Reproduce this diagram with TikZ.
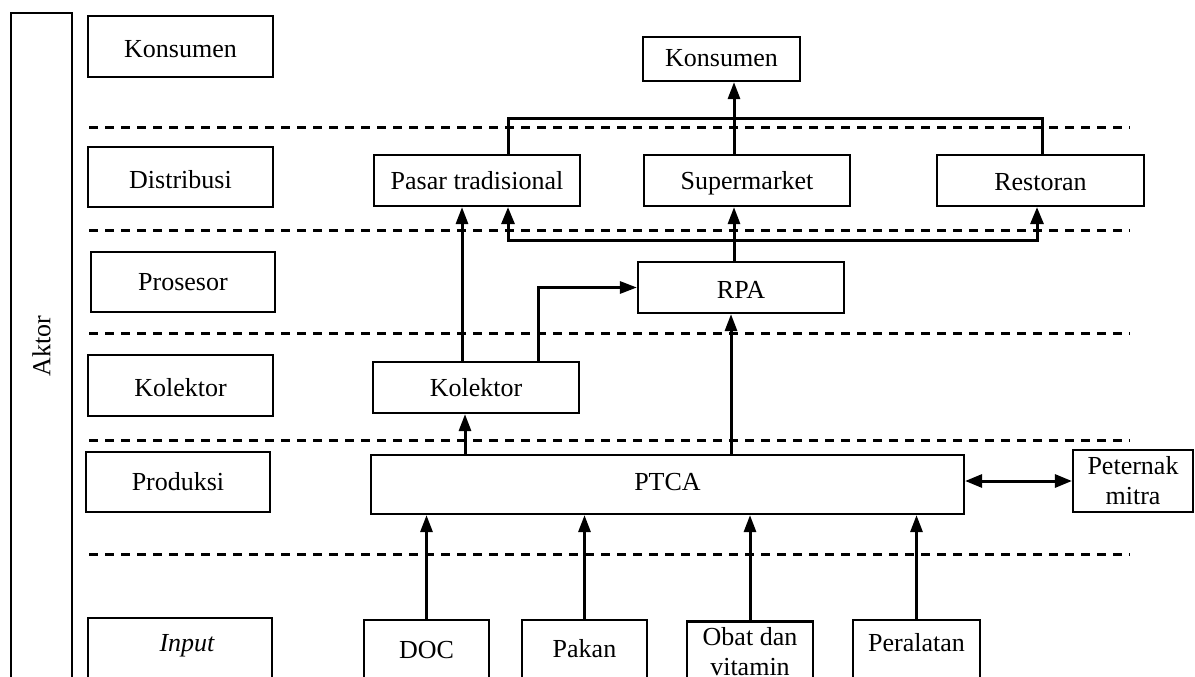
\documentclass[tikz,border=0pt]{standalone}
\usepackage{fontspec}
\setmainfont{Liberation Serif}
\usetikzlibrary{arrows.meta}
\begin{document}
\begin{tikzpicture}[x=1pt,y=-1pt,
  mbox/.style={draw, line width=2.2pt, inner sep=0pt, align=center, font=\fontsize{26}{30}\selectfont},
  bl/.style 2 args={text height=#1pt, text depth=#2pt},
  box/.style={mbox},
  conn/.style={line width=3pt},
  arr/.style={conn, -{Triangle[length=17pt,width=12pt]}},
  darr/.style={conn, {Triangle[length=17pt,width=13pt]}-{Triangle[length=17pt,width=13pt]}},
  sep/.style={line width=3pt, dash pattern=on 9pt off 7pt}]
\useasboundingbox (0,0) rectangle (1195,677);
\clip (0,0) rectangle (1195,677);
% Aktor column
\node[mbox, rotate=90, minimum width=690, minimum height=61] (aktor) at (41.5,358) {};
\node[font=\fontsize{26}{30}\selectfont, rotate=90] (aktortxt) at (41.5,346) {Aktor};
% left labels
\node[box, bl={23.5}{0.5}, minimum width=185, minimum height=61] (lkons) at (180.5,46.5) {Konsumen};
\node[box, bl={23}{1}, minimum width=185, minimum height=60] (ldist) at (180.5,177) {Distribusi};
\node[box, bl={20}{4}, minimum width=184, minimum height=60] (lpros) at (183,282) {Prosesor};
\node[box, bl={22.5}{1.5}, minimum width=185, minimum height=61] (lkol) at (180.5,385.5) {Kolektor};
\node[box, bl={20}{4}, minimum width=184, minimum height=60] (lprod) at (178,482) {Produksi};
\node[mbox, minimum width=184, minimum height=63] (linput) at (180,649.5) {};
\node[font=\fontsize{26}{30}\selectfont\itshape] (linputtxt) at (187,646) {Input};
% separators
\foreach \yy in {127,230,333,440,554} \draw[sep] (89,\yy) -- (1130,\yy);
% actors
\node[box, bl={19.7}{4.3}, minimum width=157, minimum height=44] (kons) at (721.5,59) {Konsumen};
\node[box, bl={20.5}{3.5}, minimum width=206, minimum height=51] (pasar) at (477,180.5) {Pasar tradisional};
\node[box, bl={20.8}{3.2}, minimum width=206, minimum height=51] (sup) at (747,180.5) {Supermarket};
\node[box, bl={21.5}{2.5}, minimum width=207, minimum height=51] (resto) at (1040.5,180.5) {Restoran};
\node[box, bl={22.8}{1.2}, minimum width=206, minimum height=51] (rpa) at (741,287.5) {RPA};
\node[box, bl={21}{3}, minimum width=206, minimum height=51] (kol) at (476,387.5) {Kolektor};
\node[box, bl={17.5}{6.5}, minimum width=593, minimum height=59] (ptca) at (667.5,484.5) {PTCA};
\node[mbox, minimum width=120, minimum height=62] (pet) at (1133,481) {Peternak\\mitra};
\node[box, bl={19.5}{4.5}, minimum width=125, minimum height=61] (doc) at (426.5,650.5) {DOC};
\node[box, bl={18.5}{5.5}, minimum width=125, minimum height=61] (pakan) at (584.5,650.5) {Pakan};
\node[mbox, minimum width=126, minimum height=61] (obat) at (750,652) {Obat dan\\vitamin};
\node[box, bl={12.5}{11.5}, minimum width=127, minimum height=61] (peral) at (916.5,650.5) {Peralatan};
% helper coordinates
\coordinate (xA) at (465,0);
\coordinate (xB) at (731,0);
\coordinate (xC) at (462,0);
\coordinate (xD) at (538,0);
\coordinate (xE) at (734,0);
\coordinate (xF) at (508,0);
\coordinate (xG) at (1037,0);
\coordinate (xH) at (1042,0);
\coordinate (yb) at (0,240);
\coordinate (yt) at (0,118);
% connectors
\draw[arr] (doc.north) -- (ptca.south -| doc.north);
\draw[arr] (pakan.north) -- (ptca.south -| pakan.north);
\draw[arr] (obat.north) -- (ptca.south -| obat.north);
\draw[arr] (peral.north) -- (ptca.south -| peral.north);
\draw[darr] (pet.west -| ptca.east) -- (pet.west);
\draw[arr] (ptca.north -| xA) -- (kol.south -| xA);
\draw[arr] (ptca.north -| xB) -- (rpa.south -| xB);
\draw[arr] (kol.north -| xC) -- (pasar.south -| xC);
\draw[arr] (kol.north -| xD) |- (rpa.west);
\draw[arr] (rpa.north -| xE) -- (sup.south -| xE);
\draw[darr] (pasar.south -| xF) -- (xF |- yb) -- (xG |- yb) -- (resto.south -| xG);
\draw[conn] (pasar.north -| xF) -- (xF |- yt) -- (xH |- yt) -- (resto.north -| xH);
\draw[arr] (sup.north -| xE) -- (kons.south -| xE);
\end{tikzpicture}
\end{document}
